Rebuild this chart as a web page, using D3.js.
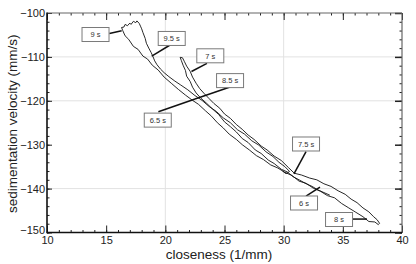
<!DOCTYPE html>
<html lang="en">
<head>
<meta charset="UTF-8">
<title>Sedimentation velocity vs closeness</title>
<style>
  body { margin: 0; background: #fff; }
  svg { display: block; font-family: "Liberation Sans", Arial, sans-serif; }
  .tick text { font-size: 11px; fill: #222; }
  .tick line { stroke: #222; }
  .grid line { stroke: #e2e2e2; stroke-width: 1; }
  .title { font-size: 13.5px; fill: #222; }
  .trace { fill: none; stroke: #111; stroke-width: 0.9; stroke-linejoin: round; }
  .callout rect { fill: #fff; stroke: #7a7a7a; stroke-width: 1; }
  .callout text { font-size: 7.5px; fill: #333; text-anchor: middle; }
  .leader { stroke: #111; stroke-width: 1.5; }
</style>
<script src="https://d3js.org/d3.v7.min.js"></script>
</head>
<body>
<div id="chart"></div>
<script>
// trajectory, in time order (about 6 s to 9.5 s)
const closeness = [
  33.9, 33.4, 32.9, 32.4, 31.9, 31.3, 30.8, 30.3, 29.8, 29.2,
  28.7, 28.1, 27.6, 27.0, 26.5, 26.0, 25.5, 25.0, 24.5, 24.0,
  23.5, 23.0, 22.6, 22.3, 22.1, 21.8, 21.7, 21.5, 21.35, 21.25,
  21.45, 21.6, 21.8, 22.1, 22.3, 22.6, 22.9, 23.3, 23.7, 24.1,
  24.6, 25.0, 25.5, 26.0, 26.5, 27.0, 27.5, 28.1, 28.6, 29.2,
  29.8, 30.4, 30.9, 31.5, 32.2, 32.8, 33.4, 34.0, 34.6, 35.2,
  35.7, 36.2, 36.7, 37.2, 37.6, 37.9, 38.1, 38.0, 37.7, 37.2,
  36.7, 36.1, 35.5, 34.9, 34.3, 33.7, 33.1, 32.5, 31.9, 31.3,
  30.7, 30.1, 29.5, 28.9, 28.3, 27.7, 27.1, 26.5, 26.0, 25.4,
  24.9, 24.4, 23.9, 23.4, 22.8, 22.3, 21.7, 21.1, 20.5, 19.9,
  19.4, 18.9, 18.5, 18.1, 17.7, 17.3, 16.9, 16.6, 16.4, 16.3,
  16.5, 16.6, 16.8, 17.0, 17.1, 17.3, 17.5, 17.6, 17.8, 17.9,
  18.0, 18.1, 18.3, 18.4, 18.6, 18.8, 18.95, 19.1, 19.3, 19.6,
  19.9, 20.3, 20.8, 21.3, 21.9, 22.5, 23.1, 23.7, 24.3, 24.9,
  25.5, 26.1, 26.7, 27.3, 27.9, 28.5, 29.1, 29.6, 30.1, 30.5,
  30.2, 29.9
];
const velocity = [
  -141.5, -140.9, -140.3, -139.5, -138.9, -138.0, -137.3, -136.2, -135.6, -134.3,
  -133.5, -132.0, -131.2, -129.5, -128.6, -127.1, -125.9, -124.8, -123.1, -121.9,
  -120.6, -119.4, -118.2, -116.9, -115.6, -114.4, -113.1, -111.9, -110.8, -110.1,
  -110.2, -111.0, -112.1, -113.3, -114.6, -116.0, -117.2, -118.4, -119.5, -120.6,
  -121.7, -123.0, -124.0, -125.4, -126.5, -127.8, -128.8, -130.3, -131.2, -132.6,
  -133.6, -135.2, -136.5, -136.9, -137.6, -138.0, -138.9, -139.5, -140.5, -141.3,
  -142.4, -143.2, -144.4, -145.3, -146.4, -147.1, -147.9, -148.2, -147.6, -147.5,
  -146.4, -145.4, -144.4, -143.4, -142.1, -141.6, -140.6, -139.9, -138.8, -138.3,
  -137.0, -136.3, -135.3, -134.6, -133.4, -132.5, -131.2, -130.0, -128.8, -127.6,
  -126.2, -125.0, -123.5, -122.3, -120.8, -119.9, -118.7, -117.4, -116.0, -114.6,
  -113.0, -111.9, -110.5, -109.8, -108.3, -107.6, -106.0, -105.2, -104.0, -103.3,
  -103.2, -102.6, -102.9, -102.3, -102.6, -101.9, -102.2, -101.8, -102.4, -103.0,
  -103.6, -104.4, -105.8, -106.9, -108.0, -109.0, -109.9, -110.9, -111.8, -112.8,
  -113.6, -114.5, -115.5, -116.4, -117.5, -118.8, -119.9, -121.3, -122.4, -123.9,
  -125.0, -126.6, -127.6, -129.1, -130.1, -131.6, -132.7, -134.0, -135.0, -136.1,
  -136.6, -136.0
];

const xTicks = [10, 15, 20, 25, 30, 35, 40];
const yTicks = [-150, -140, -130, -120, -110, -100];
const xGrid = [20, 30];
const yGrid = [-140, -120, -110];

// time callouts: box centre, leader start and leader end (data units)
const callouts = [
  { text: "9 s",   box: [14.10, -104.9], from: [15.27, -104.67], to: [16.31, -104.03] },
  { text: "9.5 s", box: [20.54, -105.8], from: [20.54, -107.06], to: [18.85, -109.8] },
  { text: "7 s",   box: [23.80, -109.75], from: [23.52, -111.46], to: [22.21, -113.33] },
  { text: "8.5 s", box: [25.47, -115.4], from: [25.47, -116.86], to: [22.51, -119.59] },
  { text: "6.5 s", box: [19.36, -124.4], from: [19.41, -122.49], to: [22.51, -119.59] },
  { text: "7.5 s", box: [31.89, -129.84], from: [31.89, -131.6], to: [30.87, -136.67] },
  { text: "6 s",   box: [31.72, -143.28], from: [31.89, -141.7], to: [33.07, -139.64] },
  { text: "8 s",   box: [34.68, -147.04], from: [35.84, -146.94], to: [37.04, -146.94] }
];

const W = 416, H = 264;
const m = { left: 47, right: 14, top: 13, bottom: 31.5 };

const svg = d3.select("#chart").append("svg")
  .attr("width", W).attr("height", H);

const x = d3.scaleLinear().domain([10, 40]).range([m.left, W - m.right]);
const y = d3.scaleLinear().domain([-150, -100]).range([H - m.bottom, m.top]);

const yBottom = y(-150), yTop = y(-100), xLeft = x(10), xRight = x(40);

// grid
const grid = svg.append("g").attr("class", "grid");
grid.selectAll(".gx").data(xGrid).enter().append("line")
  .attr("x1", d => x(d)).attr("x2", d => x(d))
  .attr("y1", yTop).attr("y2", yBottom);
grid.selectAll(".gy").data(yGrid).enter().append("line")
  .attr("x1", xLeft).attr("x2", xRight)
  .attr("y1", d => y(d)).attr("y2", d => y(d));

// axes (inward ticks)
function axisGroup(axis, tx, ty) {
  const g = svg.append("g").attr("transform", `translate(${tx},${ty})`).call(axis);
  g.select(".domain").remove();
  return g;
}

axisGroup(d3.axisBottom(x).tickValues(d3.range(10, 41, 1)).tickSize(-2.5).tickFormat(""), 0, yBottom);
axisGroup(d3.axisBottom(x).tickValues(xTicks).tickSize(-7).tickPadding(3.5), 0, yBottom);
axisGroup(d3.axisTop(x).tickValues(d3.range(10, 41, 1)).tickSize(-2.5).tickFormat(""), 0, yTop);
axisGroup(d3.axisTop(x).tickValues(xTicks).tickSize(-7).tickFormat(""), 0, yTop);
axisGroup(d3.axisLeft(y).tickValues(d3.range(-150, -99, 2)).tickSize(-2.5).tickFormat(""), xLeft, 0);
const yAxisG = axisGroup(d3.axisLeft(y).tickValues(yTicks).tickSize(-5).tickPadding(2), xLeft, 0);
// lift the lowest label a little so it clears the "10" below it
yAxisG.selectAll(".tick text").filter(d => d === -150).attr("dy", "0.1em");
axisGroup(d3.axisRight(y).tickValues(d3.range(-150, -99, 2)).tickSize(-2.5).tickFormat(""), xRight, 0);
axisGroup(d3.axisRight(y).tickValues(yTicks).tickSize(-7).tickFormat(""), xRight, 0)
  .selectAll("line").attr("stroke-width", 1.5);

// frame
svg.append("line").attr("x1", xLeft).attr("x2", xRight).attr("y1", yTop).attr("y2", yTop)
  .attr("stroke", "#666").attr("stroke-width", 1.2);
svg.append("line").attr("x1", xRight).attr("x2", xRight).attr("y1", yTop).attr("y2", yBottom)
  .attr("stroke", "#666").attr("stroke-width", 1.2);
svg.append("line").attr("x1", xLeft).attr("x2", xLeft).attr("y1", yTop - 0.6).attr("y2", yBottom + 0.8)
  .attr("stroke", "#111").attr("stroke-width", 1.6);
svg.append("line").attr("x1", xLeft).attr("x2", xRight).attr("y1", yBottom).attr("y2", yBottom)
  .attr("stroke", "#111").attr("stroke-width", 1.6);

// the trace
const line = d3.line()
  .x(i => x(closeness[i]))
  .y(i => y(velocity[i]));
svg.append("path")
  .datum(d3.range(closeness.length))
  .attr("class", "trace")
  .attr("d", line);

// callouts
svg.selectAll(".leader").data(callouts).enter().append("line")
  .attr("class", "leader")
  .attr("x1", d => x(d.from[0])).attr("y1", d => y(d.from[1]))
  .attr("x2", d => x(d.to[0])).attr("y2", d => y(d.to[1]));

const boxes = svg.selectAll(".callout").data(callouts).enter().append("g")
  .attr("class", "callout")
  .attr("transform", d => `translate(${x(d.box[0])},${y(d.box[1])})`);
boxes.append("rect").attr("x", -13.5).attr("y", -7).attr("width", 27).attr("height", 14);
boxes.append("text").attr("y", 2.7).text(d => d.text);

// axis titles
svg.append("text").attr("class", "title")
  .attr("x", 219).attr("y", 259)
  .attr("text-anchor", "middle")
  .text("closeness (1/mm)");
svg.append("text").attr("class", "title")
  .attr("transform", `translate(17,${(yTop + yBottom) / 2 + 1}) rotate(-90)`)
  .attr("text-anchor", "middle")
  .text("sedimentation velocity (mm/s)");
</script>
</body>
</html>
